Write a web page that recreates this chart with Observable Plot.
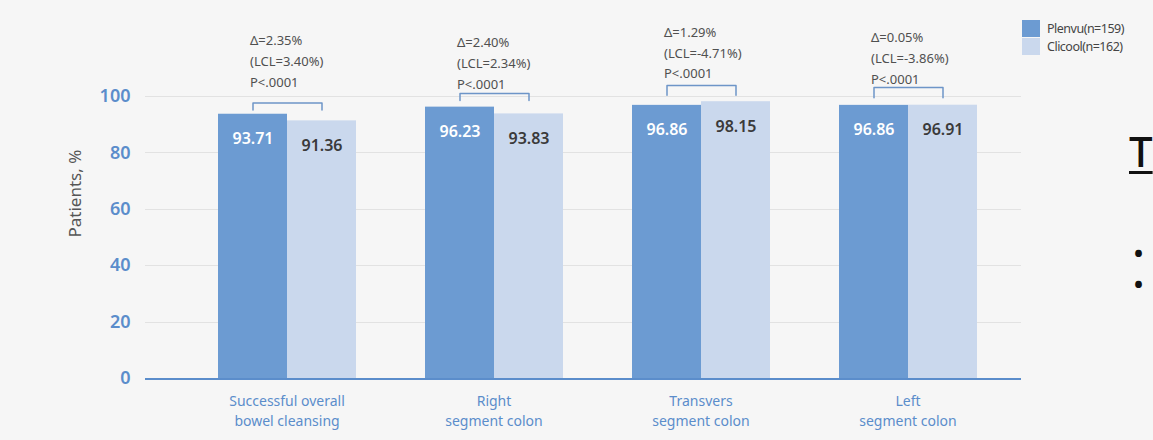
<!DOCTYPE html>
<html>
<head>
<meta charset="utf-8">
<script src="https://cdn.jsdelivr.net/npm/d3@7"></script>
<script src="https://cdn.jsdelivr.net/npm/@observablehq/plot@0.6"></script>
<style>
  html, body { margin: 0; padding: 0; background: #f6f6f6; }
  #wrap { position: relative; width: 1153px; height: 440px; overflow: hidden; font-family: "Noto Sans", sans-serif; }
  #chart { position: absolute; left: 0; top: 0; }
  #legend { position: absolute; left: 1022px; top: 20px; font-size: 12.5px; color: #444; letter-spacing: -0.5px; }
  #legend .item { display: flex; align-items: center; height: 17.5px; }
  #legend .sw { width: 18px; height: 17px; margin-right: 7px; }
  #side-title { position: absolute; left: 1129px; top: 126px; font-size: 42px; line-height: 50px; color: #111; font-weight: 500; text-decoration: underline; text-decoration-thickness: 3px; text-underline-offset: 4px; }
  .bullet { position: absolute; left: 1134px; font-size: 24px; line-height: 20px; height: 20px; color: #111; font-weight: 700; }
</style>
</head>
<body>
<div id="wrap">
  <div id="chart"></div>
  <div id="legend"></div>
  <div id="side-title">T</div>
  <div class="bullet" style="top:243px">•</div>
  <div class="bullet" style="top:274px">•</div>
</div>
<script>
// ---- data ----
const categories = ["Successful overall\nbowel cleansing", "Right\nsegment colon", "Transvers\nsegment colon", "Left\nsegment colon"];
const series = ["Plenvu", "Clicool"];
const seriesLabels = ["Plenvu(n=159)", "Clicool(n=162)"];
const plenvu = [93.71, 96.23, 96.86, 96.86];
const clicool = [91.36, 93.83, 98.15, 96.91];
const deltas = ["Δ=2.35%", "Δ=2.40%", "Δ=1.29%", "Δ=0.05%"];
const lcls = ["(LCL=3.40%)", "(LCL=2.34%)", "(LCL=-4.71%)", "(LCL=-3.86%)"];
const pValues = ["P<.0001", "P<.0001", "P<.0001", "P<.0001"];
const bracketTop = [97.7, 101.1, 103.9, 103.2];
const bracketBottom = [95.2, 98.6, 100.4, 99.6];
const annotationY = [103.5, 102.8, 106.4, 104.6];
const yTicks = [0, 20, 40, 60, 80, 100];
const yLabel = "Patients, %";

// ---- styles ----
const FONT = '"Noto Sans", sans-serif';
const colors = ["#6c9bd2", "#cad8ed"];
const blue = "#5b8dcb";

// ---- tables ----
const rows = categories.flatMap((c, i) => [
  {category: c, series: series[0], value: plenvu[i]},
  {category: c, series: series[1], value: clicool[i]}
]);
const bracketRows = categories.flatMap((c, i) => [
  {category: c, series: series[0], y: bracketBottom[i]},
  {category: c, series: series[0], y: bracketTop[i]},
  {category: c, series: series[1], y: bracketTop[i]},
  {category: c, series: series[1], y: bracketBottom[i]}
]);
const annRows = categories.map((c, i) => ({
  category: c, series: series[0], y: annotationY[i],
  text: [deltas[i], lcls[i], pValues[i]].join("\n")
}));
const gridRows = categories.flatMap(c => yTicks.slice(1).map(t => ({category: c, y: t})));
const baseRows = categories.map(c => ({category: c, y: 0}));
const firstRows = yTicks.map(t => ({category: categories[0], y: t}));

const chart = Plot.plot({
  width: 1153,
  height: 440,
  marginLeft: 143,
  marginRight: 130,
  marginTop: 96,
  marginBottom: 62,
  style: {background: "transparent", fontFamily: FONT, overflow: "visible"},
  fx: {domain: categories, paddingInner: 0.327, paddingOuter: 0.279, align: 0.62, label: null},
  x: {domain: series, padding: 0, axis: null},
  y: {domain: [0, 100], axis: null},
  color: {domain: series, range: colors},
  marks: [
    Plot.ruleY(gridRows, {fx: "category", y: "y", insetLeft: -72, insetRight: -44,
      stroke: "#e2e2e2", strokeWidth: 1, shapeRendering: "crispEdges"}),
    Plot.barY(rows, {fx: "category", x: "series", y: "value", fill: "series"}),
    Plot.ruleY(baseRows, {fx: "category", y: "y", insetLeft: -72, insetRight: -44,
      stroke: blue, strokeWidth: 2, shapeRendering: "crispEdges"}),
    Plot.text(firstRows, {fx: "category", y: "y", text: d => String(d.y), frameAnchor: "left",
      textAnchor: "end", dx: -87, fontSize: 18, fontWeight: 600, fill: blue}),
    Plot.text([{category: categories[0]}], {fx: "category", text: () => yLabel, frameAnchor: "left",
      rotate: -90, dx: -142, fontSize: 17, fill: "#555"}),
    Plot.axisFx({anchor: "bottom", tickSize: 0, tickPadding: 13, fontSize: 14, fill: blue,
      lineHeight: 1.45, label: null}),
    Plot.text(rows.filter(d => d.series === series[0]), {fx: "category", x: "series", y: "value",
      text: d => d.value.toFixed(2), dy: 25, fill: "white", fontSize: 16, fontWeight: 600}),
    Plot.text(rows.filter(d => d.series === series[1]), {fx: "category", x: "series", y: "value",
      text: d => d.value.toFixed(2), dy: 25, fill: "#3a3a3a", fontSize: 16, fontWeight: 600}),
    Plot.line(bracketRows, {fx: "category", x: "series", y: "y", z: "category",
      stroke: "#6d95c8", strokeWidth: 1.5}),
    Plot.text(annRows, {fx: "category", x: "series", y: "y", text: "text",
      textAnchor: "start", lineAnchor: "bottom", lineHeight: 1.6, dx: -3,
      fontSize: 13, fill: "#505050", letterSpacing: -0.2})
  ]
});
document.getElementById("chart").appendChild(chart);

// legend
const legend = document.getElementById("legend");
series.forEach((s, i) => {
  const item = document.createElement("div");
  item.className = "item";
  const sw = document.createElement("div");
  sw.className = "sw";
  sw.style.background = colors[i];
  const label = document.createElement("span");
  label.textContent = seriesLabels[i];
  item.appendChild(sw);
  item.appendChild(label);
  legend.appendChild(item);
});
</script>
</body>
</html>
